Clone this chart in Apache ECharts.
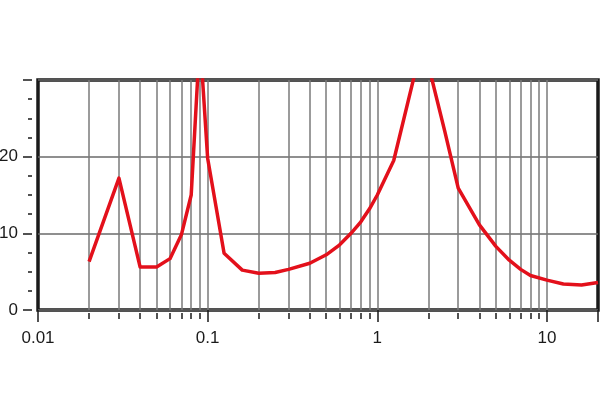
<!DOCTYPE html>
<html>
<head>
<meta charset="utf-8">
<script src="https://cdn.jsdelivr.net/npm/echarts@6/dist/echarts.min.js"></script>
<style>html,body{margin:0;padding:0;background:#fff}#c{width:600px;height:420px}</style>
</head>
<body>
<div id="c"></div>
<script>
var xValues = [0.02, 0.03, 0.04, 0.05, 0.06, 0.07, 0.08, 0.09, 0.1, 0.125, 0.16, 0.2, 0.25, 0.3, 0.4, 0.5, 0.6, 0.7, 0.8, 0.9, 1.0, 1.25, 1.85, 2.5, 3, 4, 5, 6, 7, 8, 10, 12.5, 16, 20];
var yValues = [6.3, 17.2, 5.6, 5.6, 6.7, 9.8, 15, 35.5, 19.8, 7.4, 5.2, 4.8, 4.9, 5.3, 6.1, 7.2, 8.5, 10, 11.5, 13.2, 15, 19.5, 35, 23.3, 15.9, 11.1, 8.3, 6.5, 5.3, 4.5, 3.9, 3.4, 3.25, 3.6];
var xMajorTicks = [0.01, 0.1, 1, 10, 20];
var xMinorTicks = [0.02, 0.03, 0.04, 0.05, 0.06, 0.07, 0.08, 0.09, 0.2, 0.3, 0.4, 0.5, 0.6, 0.7, 0.8, 0.9, 2, 3, 4, 5, 6, 7, 8, 9];
var xGridValues = [0.02, 0.03, 0.04, 0.05, 0.06, 0.07, 0.08, 0.09, 0.1, 0.2, 0.3, 0.4, 0.5, 0.6, 0.7, 0.8, 0.9, 1, 2, 3, 4, 5, 6, 7, 8, 9, 10];
var xLabelValues = [0.01, 0.1, 1, 10];
var xLabelTexts = ['0.01', '0.1', '1', '10'];
var yLabelValues = [0, 10, 20];

var chart = echarts.init(document.getElementById('c'), null, {renderer: 'canvas'});
var fontFam = 'Liberation Sans, Arial, sans-serif';
function xLabel(v) {
  var best = 0, bd = Infinity;
  for (var i = 0; i < xLabelValues.length; i++) {
    var d = Math.abs(Math.log(v) - Math.log(xLabelValues[i]));
    if (d < bd) { bd = d; best = i; }
  }
  return xLabelTexts[best];
}
var pts = xValues.map(function (x, i) { return [x, yValues[i]]; });
chart.setOption({
  animation: false,
  grid: {left: 38, right: 2, top: 80, bottom: 110, show: true, borderColor: '#1a1a1a', borderWidth: 3.5, backgroundColor: 'transparent', containLabel: false, outerBoundsMode: 'none'},
  xAxis: [{
    type: 'log', logBase: 10, min: 0.01, max: 20, position: 'bottom', offset: 3,
    axisLine: {show: false},
    axisTick: {show: true, length: 12, customValues: xMajorTicks, lineStyle: {color: '#1a1a1a', width: 1.5}},
    axisLabel: {show: true, customValues: xLabelValues, margin: 17, fontSize: 17, color: '#1a1a1a', fontFamily: fontFam, formatter: xLabel},
    splitLine: {show: false}
  }, {
    type: 'log', logBase: 10, min: 0.01, max: 20, position: 'bottom', offset: 3,
    axisLine: {show: false},
    axisTick: {show: true, length: 6, customValues: xMinorTicks, lineStyle: {color: '#1a1a1a', width: 1.5}},
    axisLabel: {show: false},
    splitLine: {show: false}
  }],
  yAxis: {
    type: 'value', min: 0, max: 30, interval: 10, offset: 6,
    axisLine: {show: false},
    axisTick: {show: true, length: 9, lineStyle: {color: '#1a1a1a', width: 1.5}},
    minorTick: {show: true, splitNumber: 4, length: 4, lineStyle: {color: '#1a1a1a', width: 1.5}},
    axisLabel: {margin: 14, fontSize: 17, color: '#1a1a1a', fontFamily: fontFam,
      formatter: function (v) { return yLabelValues.indexOf(v) >= 0 ? String(v) : ''; }},
    splitLine: {show: true, lineStyle: {color: '#6a6a6a', width: 1.5}}
  },
  series: [{
    type: 'line', data: [], z: 1, silent: true,
    markLine: {
      silent: true, symbol: ['none', 'none'], animation: false,
      label: {show: false},
      lineStyle: {color: '#7a7a7a', width: 1.5, type: 'solid'},
      emphasis: {disabled: true},
      data: xGridValues.map(function (v) { return {xAxis: v}; })
    }
  }, {
    type: 'line', data: pts, z: 5, symbol: 'none', smooth: false, clip: true,
    lineStyle: {color: '#e3101b', width: 3.5, join: 'round'}
  }]
});
</script>
</body>
</html>
